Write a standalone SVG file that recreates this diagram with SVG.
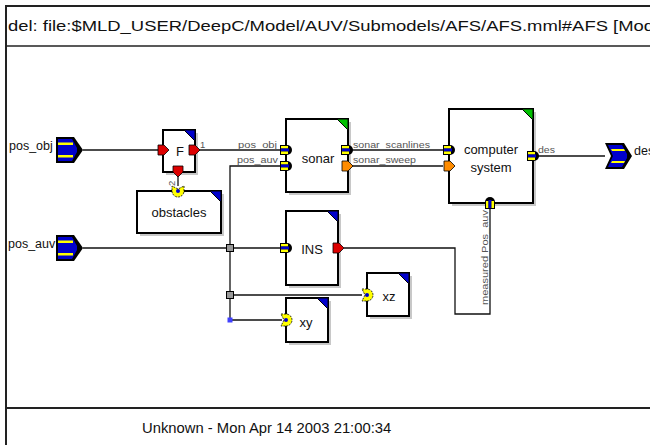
<svg xmlns="http://www.w3.org/2000/svg" width="650" height="445" viewBox="0 0 650 445">
<style>
  .frame{stroke:#222;fill:none}
  .blk{fill:#fff;stroke:#000;stroke-width:2}
  .shd{fill:#c8c8c8}
  .wire{fill:none;stroke:#111;stroke-width:1.3}
  .t{font-family:"Liberation Sans",Arial,sans-serif;fill:#111}
  .big{font-size:13px;text-anchor:middle}
  .lbl{font-family:"Liberation Sans",Arial,sans-serif;font-size:9.5px;fill:#555}
  .plbl{font-family:"Liberation Sans",Arial,sans-serif;font-size:12.5px;fill:#111}
  .cb{fill:#0000cc;stroke:#000;stroke-width:1}
  .cg{fill:#00c000;stroke:#000;stroke-width:1}
</style>
<defs>
  <g id="bus">
    <path d="M-6,-5 H1 A5,5 0 0 1 1,5 H-6 Z" fill="#000"/>
    <rect x="-5" y="-4" width="7" height="2.5" fill="#ffff00"/>
    <rect x="-5" y="-1.5" width="8" height="3" fill="#0000cc"/>
    <rect x="-5" y="1.5" width="7" height="2.5" fill="#ffff00"/>
  </g>
  <path id="red" d="M-5,-5 H1 L6,0 L1,5 H-5 Z" fill="#dd0000" stroke="#000" stroke-width="0.8"/>
  <path id="org" d="M-5,-5 H1 L6,0 L1,5 H-5 Z" fill="#ff8c00" stroke="#000" stroke-width="0.8"/>
  <g id="dport">
    <path d="M-5,-6 H0 A6,6 0 0 1 0,6 H-5 L-2,0 Z" fill="#ffff00" stroke="#000" stroke-width="0.8" stroke-dasharray="2,1"/>
    <circle cx="0" cy="0" r="2" fill="#0000cc"/>
  </g>
  <g id="inport">
    <path d="M0,-13 H18 L27,0 L18,13 H0 Z" fill="#000"/>
    <path d="M2,-11 H16 L21,-2 L21,2 L16,11 H2 Z" fill="#0000cc"/>
    <rect x="2" y="-7.5" width="15" height="2.5" fill="#ffff00"/>
    <rect x="2" y="5" width="15" height="2.5" fill="#ffff00"/>
  </g>
  <g id="outport">
    <path d="M0,-13 H19 L27,0 L19,13 H0 L6,0 Z" fill="#000"/>
    <path d="M3,-11 H17 L22,-2 L22,2 L17,11 H3 L8,0 Z" fill="#0000cc"/>
    <path d="M6,-7 H19 L20,-5 H7 Z" fill="#ffff00"/>
    <path d="M7,5 H20 L19,7 H6 Z" fill="#ffff00"/>
  </g>
</defs>
<rect x="0" y="0" width="650" height="445" fill="#fff"/>
<g id="frame">
  <line x1="5" y1="6" x2="650" y2="6" class="frame" stroke-width="2"/>
  <line x1="6" y1="5" x2="6" y2="445" class="frame" stroke-width="2"/>
  <line x1="6" y1="46" x2="650" y2="46" class="frame" stroke-width="1.5"/>
  <line x1="6" y1="408" x2="650" y2="408" class="frame" stroke-width="2"/>
  <text x="8" y="31" class="t" font-size="15" textLength="646" lengthAdjust="spacingAndGlyphs">del: file:$MLD_USER/DeepC/Model/AUV/Submodels/AFS/AFS.mml#AFS [Mod</text>
  <text x="142" y="433" class="t" font-size="14.8">Unknown - Mon Apr 14 2003 21:00:34</text>
</g>
<g id="connectors">
  <polyline class="wire" points="83,150 158,150"/>
  <polyline class="wire" points="199,150 280,150"/>
  <polyline class="wire" points="178,176 178,186"/>
  <polyline class="wire" points="280,166 230,166 230,320 282,320"/>
  <polyline class="wire" points="83,248 280,248"/>
  <polyline class="wire" points="230,295 362,295"/>
  <polyline class="wire" points="352,150 443,150"/>
  <polyline class="wire" points="352,166 443,166"/>
  <polyline class="wire" points="538,156 605,156"/>
  <polyline class="wire" points="344,248 455,248 455,314 490,314 490,208"/>
  <rect x="226.5" y="244.5" width="7" height="7" fill="#999" stroke="#000" stroke-width="1"/>
  <rect x="226.5" y="291.5" width="7" height="7" fill="#999" stroke="#000" stroke-width="1"/>
  <rect x="227.5" y="317.5" width="5" height="5" fill="#4040ff"/>
  <text class="lbl" x="238" y="148" textLength="39" lengthAdjust="spacingAndGlyphs">pos_obj</text>
  <text class="lbl" x="237" y="163" textLength="41" lengthAdjust="spacingAndGlyphs">pos_auv</text>
  <text class="lbl" x="353" y="148" textLength="77" lengthAdjust="spacingAndGlyphs">sonar_scanlines</text>
  <text class="lbl" x="353" y="163" textLength="63" lengthAdjust="spacingAndGlyphs">sonar_sweep</text>
  <text class="lbl" x="538" y="153" textLength="17" lengthAdjust="spacingAndGlyphs">des</text>
  <text class="lbl" transform="translate(488,305) rotate(-90)" textLength="95" lengthAdjust="spacingAndGlyphs">measured Pos_auv</text>
  <text class="lbl" x="200" y="148">1</text>
  <text class="lbl" transform="translate(175,186) rotate(-90)">2</text>
</g>
<g id="pos_obj">
  <use href="#inport" x="56" y="150"/>
  <text class="plbl" x="9" y="150">pos_obj</text>
</g>
<g id="pos_auv">
  <use href="#inport" x="56" y="248"/>
  <text class="plbl" x="8" y="248">pos_auv</text>
</g>
<g id="des">
  <use href="#outport" x="605" y="156"/>
  <text class="plbl" x="634" y="155">des</text>
</g>
<g id="F">
  <rect class="shd" x="166" y="133" width="32" height="42"/>
  <rect class="blk" x="163" y="130" width="32" height="42"/>
  <polygon class="cb" points="184,130 195,130 195,141"/>
  <text class="t big" x="180" y="156" font-size="14">F</text>
  <use href="#red" x="163" y="150"/>
  <use href="#red" x="194" y="150"/>
  <use href="#red" transform="translate(178,171) rotate(90)"/>
</g>
<g id="obstacles">
  <rect class="shd" x="140" y="194" width="84" height="42"/>
  <rect class="blk" x="137" y="191" width="84" height="42"/>
  <polygon class="cb" points="210,191 221,191 221,202"/>
  <text class="t big" x="179" y="217">obstacles</text>
  <use href="#dport" transform="translate(178,191) rotate(90)"/>
</g>
<g id="sonar">
  <rect class="shd" x="289" y="122" width="62" height="73"/>
  <rect class="blk" x="286" y="119" width="62" height="73"/>
  <polygon class="cg" points="337,119 348,119 348,130"/>
  <text class="t big" x="318" y="163">sonar</text>
  <use href="#bus" x="286" y="150"/>
  <use href="#bus" x="286" y="166"/>
  <use href="#bus" x="347" y="150"/>
  <use href="#org" x="347" y="166"/>
</g>
<g id="computer_system">
  <rect class="shd" x="452" y="112" width="84" height="94"/>
  <rect class="blk" x="449" y="109" width="84" height="94"/>
  <polygon class="cg" points="522,109 533,109 533,120"/>
  <text class="t big" x="491" y="154">computer</text>
  <text class="t big" x="491" y="172">system</text>
  <use href="#bus" x="449" y="150"/>
  <use href="#org" x="449" y="166"/>
  <use href="#bus" x="533" y="156"/>
  <use href="#bus" transform="translate(490,203) rotate(-90)"/>
</g>
<g id="INS">
  <rect class="shd" x="289" y="214" width="52" height="74"/>
  <rect class="blk" x="286" y="211" width="52" height="74"/>
  <polygon class="cb" points="327,211 338,211 338,222"/>
  <text class="t big" x="312" y="254">INS</text>
  <use href="#bus" x="286" y="248"/>
  <use href="#red" x="338" y="248"/>
</g>
<g id="xz">
  <rect class="shd" x="370" y="276" width="42" height="43"/>
  <rect class="blk" x="367" y="273" width="42" height="43"/>
  <polygon class="cb" points="398,273 409,273 409,284"/>
  <text class="t big" x="389" y="301">xz</text>
  <use href="#dport" x="367" y="295"/>
</g>
<g id="xy">
  <rect class="shd" x="289" y="301" width="42" height="44"/>
  <rect class="blk" x="286" y="298" width="42" height="44"/>
  <polygon class="cb" points="317,298 328,298 328,309"/>
  <text class="t big" x="306" y="327">xy</text>
  <use href="#dport" x="286" y="320"/>
</g>
</svg>
